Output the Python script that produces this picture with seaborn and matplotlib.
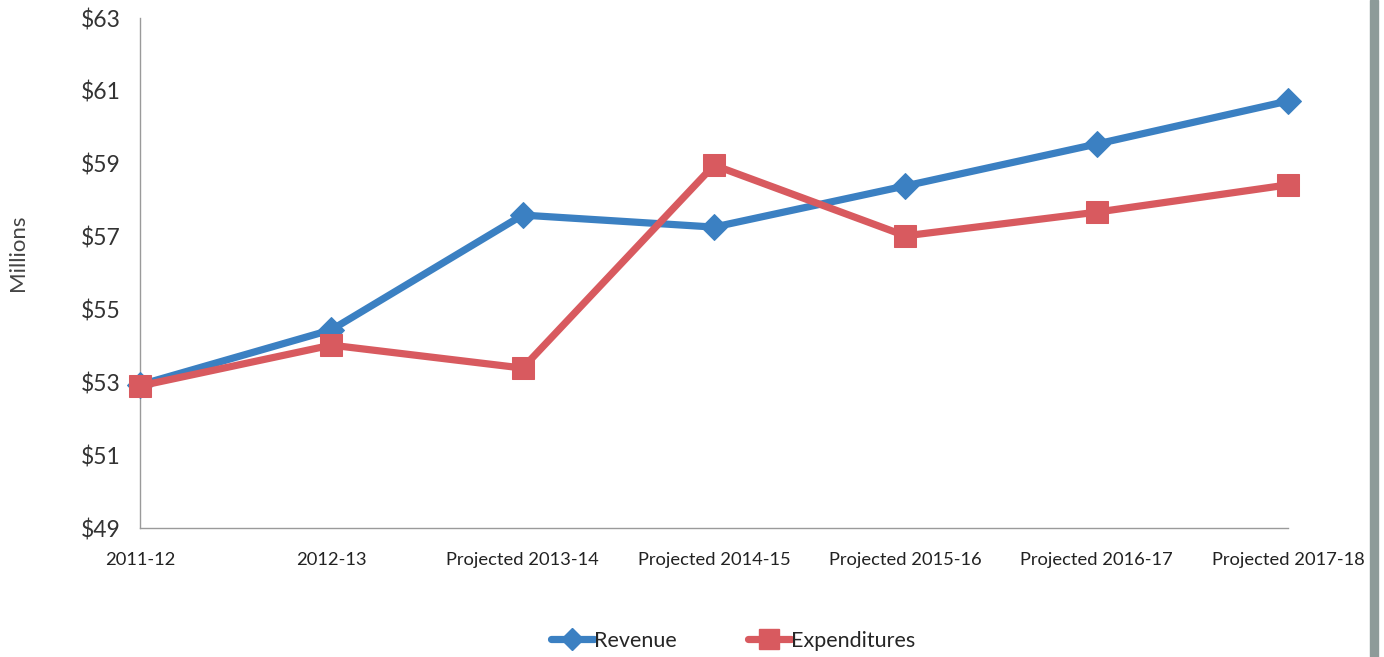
import matplotlib
matplotlib.use("Agg")
import matplotlib.pyplot as plt
import seaborn as sns
import pandas as pd
from matplotlib.lines import Line2D
from matplotlib.patches import Rectangle

categories = ["2011-12", "2012-13", "Projected 2013-14", "Projected 2014-15",
              "Projected 2015-16", "Projected 2016-17", "Projected 2017-18"]
revenue = [52.93, 54.44, 57.59, 57.26, 58.39, 59.54, 60.72]
expenditures = [52.90, 54.02, 53.39, 58.96, 57.02, 57.67, 58.42]
y_ticks = [49, 51, 53, 55, 57, 59, 61, 63]

sns.set_theme(style="white")
plt.rcParams['font.family'] = ['Lato', 'DejaVu Sans']

blue = "#3b80c2"
red = "#d85a5f"

df = pd.DataFrame({
    "idx": list(range(len(categories))) * 2,
    "value": revenue + expenditures,
    "series": ["Revenue"] * len(categories) + ["Expenditures"] * len(categories),
})

fig = plt.figure(figsize=(13.84, 6.57), dpi=100)
ax = fig.add_axes([140/1384, (657-528)/657, (1288-140)/1384, (528-18)/657])

sns.lineplot(data=df[df.series == "Revenue"], x="idx", y="value", ax=ax,
             color=blue, lw=5.2, marker="D", markersize=13, markeredgecolor=blue,
             sort=False, legend=False, clip_on=False, zorder=3)
sns.lineplot(data=df[df.series == "Expenditures"], x="idx", y="value", ax=ax,
             color=red, lw=5.2, marker="s", markersize=16, markeredgecolor=red,
             sort=False, legend=False, clip_on=False, zorder=4)

ax.set_xlim(0, len(categories) - 1)
ax.set_ylim(49, 63)
ax.set_yticks(y_ticks)
ax.set_yticklabels([f"${v}" for v in y_ticks], fontsize=16.5, color="#333333")
ax.set_xticks(range(len(categories)))
ax.set_xticklabels(categories, fontsize=13.2, color="#222222")
ax.set_xlabel("")
ax.set_ylabel("Millions", fontsize=16, color="#444444")
ax.yaxis.set_label_coords(-112/1148, (528-253)/510)
ax.tick_params(axis="y", direction="in", length=5, color="#999999", pad=14)
ax.tick_params(axis="x", direction="in", length=4, color="#999999", pad=17)
for s in ["top", "right"]:
    ax.spines[s].set_visible(False)
for s in ["left", "bottom"]:
    ax.spines[s].set_color("#9a9a9a")
    ax.spines[s].set_linewidth(1.0)

handles = [
    Line2D([], [], color=blue, lw=5.2, marker="D", markersize=11, markeredgecolor=blue),
    Line2D([], [], color=red, lw=5.2, marker="s", markersize=14, markeredgecolor=red),
]
fig.legend(handles, ["Revenue", "Expenditures"], loc="center",
           bbox_to_anchor=(733/1384, 1 - 641/657), ncol=2, frameon=False,
           fontsize=15.5, handlelength=2.0, handletextpad=0.0, columnspacing=3.3)

fig.patches.append(Rectangle((1370/1384, 0), 8/1384, 1, transform=fig.transFigure,
                             color="#8d9b99", zorder=0))

fig.savefig("out.png", dpi=100)
